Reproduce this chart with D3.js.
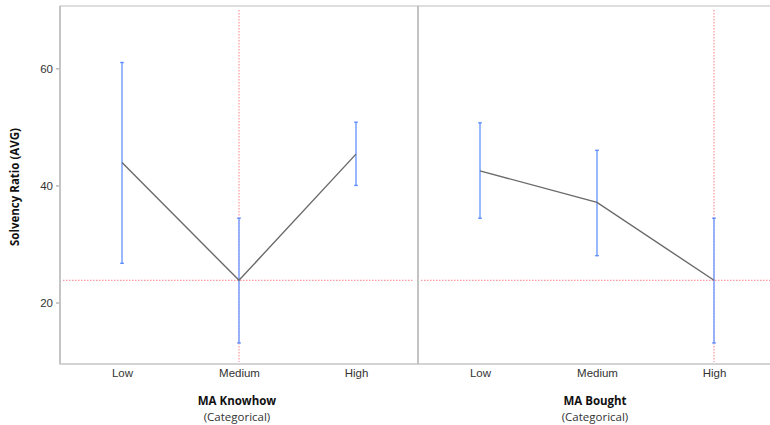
<!DOCTYPE html>
<html>
<head>
<meta charset="utf-8">
<script src="https://cdn.jsdelivr.net/npm/d3@7"></script>
<style>
body{margin:0;background:#fff;}
svg{display:block;font-family:"Open Sans","Noto Sans",sans-serif;}
</style>
</head>
<body>
<svg id="chart" width="770" height="425"></svg>
<script>
const categories = ["Low", "Medium", "High"];
const panelTitles = ["MA Knowhow", "MA Bought"];
const panelSubtitles = ["(Categorical)", "(Categorical)"];
const knowhowMean = [43.9, 23.8, 45.35];
const knowhowUpper = [61.0, 34.4, 50.8];
const knowhowLower = [26.7, 13.1, 40.0];
const boughtMean = [42.5, 37.1, 23.8];
const boughtUpper = [50.7, 46.0, 34.4];
const boughtLower = [34.4, 28.0, 13.1];
const yTicks = [20, 40, 60];
const refValue = 23.8;
const refCategory = ["Medium", "High"];
const yLabel = "Solvency Ratio (AVG)";

(function(){
const panels = [
  {mean: knowhowMean, upper: knowhowUpper, lower: knowhowLower},
  {mean: boughtMean, upper: boughtUpper, lower: boughtLower}
];

const svg = d3.select("#chart");
const plotTop = 6, plotBottom = 364;
const panelLeft = [60, 418];
const panelW = 358;

const y = d3.scaleLinear().domain([9.5, 70.65]).range([plotBottom, plotTop]);

svg.append("text")
  .attr("transform", `translate(19,${(plotTop+plotBottom)/2 + 2}) rotate(-90)`)
  .attr("text-anchor", "middle")
  .attr("font-size", 11.5).attr("font-weight", "bold").attr("fill", "#111")
  .text(yLabel);

const yAxis = d3.axisLeft(y).tickValues(yTicks).tickSize(4).tickPadding(3);
const ya = svg.append("g").attr("transform", `translate(${panelLeft[0]},0)`).call(yAxis);
ya.select(".domain").remove();
ya.selectAll(".tick line").attr("stroke", "#999");
ya.selectAll(".tick text").attr("font-size", 11.5).attr("fill", "#333");

panels.forEach((p, i) => {
  const x0 = panelLeft[i];
  const x = d3.scalePoint().domain(categories).range([x0, x0 + panelW]).padding(0.53);
  const g = svg.append("g");

  g.append("rect").attr("x", x0).attr("y", plotTop).attr("width", panelW).attr("height", plotBottom - plotTop)
    .attr("fill", "none").attr("stroke", "#d4d4d4").attr("stroke-width", 1.5);

  g.append("line")
    .attr("x1", x0 + 3).attr("x2", x0 + panelW - 4)
    .attr("y1", y(refValue)).attr("y2", y(refValue))
    .attr("stroke", "#ff7f86").attr("stroke-width", 1).attr("stroke-dasharray", "1.5,1.5");
  g.append("line")
    .attr("x1", x(refCategory[i])).attr("x2", x(refCategory[i]))
    .attr("y1", plotTop + 4).attr("y2", plotBottom - 2)
    .attr("stroke", "#ff7f86").attr("stroke-width", 1).attr("stroke-dasharray", "1.5,1.5");

  categories.forEach((c, j) => {
    const cx = x(c);
    g.append("line").attr("x1", cx).attr("x2", cx)
      .attr("y1", y(p.upper[j])).attr("y2", y(p.lower[j]))
      .attr("stroke", "#7ea6ff").attr("stroke-width", 1.6);
    [p.upper[j], p.lower[j]].forEach(v => {
      g.append("line").attr("x1", cx - 1.8).attr("x2", cx + 1.8)
        .attr("y1", y(v)).attr("y2", y(v))
        .attr("stroke", "#5d8cff").attr("stroke-width", 1.4);
    });
  });

  const line = d3.line().x((d, j) => x(categories[j])).y(d => y(d));
  g.append("path").datum(p.mean).attr("d", line)
    .attr("fill", "none").attr("stroke", "#6a6a6a").attr("stroke-width", 1.4);

  const xa = g.append("g").attr("transform", `translate(0,${plotBottom})`)
    .call(d3.axisBottom(x).tickSize(0).tickPadding(5));
  xa.select(".domain").remove();
  xa.selectAll(".tick text").attr("font-size", 11.5).attr("fill", "#333");

  const cx = x0 + panelW / 2 - 2;
  g.append("text").attr("x", cx).attr("y", 405).attr("text-anchor", "middle")
    .attr("font-size", 11.5).attr("font-weight", "bold").attr("fill", "#111").text(panelTitles[i]);
  g.append("text").attr("x", cx).attr("y", 421).attr("text-anchor", "middle")
    .attr("font-size", 11.5).attr("fill", "#333").text(panelSubtitles[i]);
});

svg.append("line").attr("x1", panelLeft[0]).attr("x2", panelLeft[0]).attr("y1", plotTop).attr("y2", plotBottom)
  .attr("stroke", "#bdbdbd").attr("stroke-width", 1.5);
svg.append("line").attr("x1", panelLeft[0]).attr("x2", 770).attr("y1", plotBottom).attr("y2", plotBottom)
  .attr("stroke", "#cfcfcf").attr("stroke-width", 1.5);
svg.append("line").attr("x1", panelLeft[1]).attr("x2", panelLeft[1]).attr("y1", plotTop).attr("y2", plotBottom)
  .attr("stroke", "#bdbdbd").attr("stroke-width", 1.5);
})();
</script>
</body>
</html>
